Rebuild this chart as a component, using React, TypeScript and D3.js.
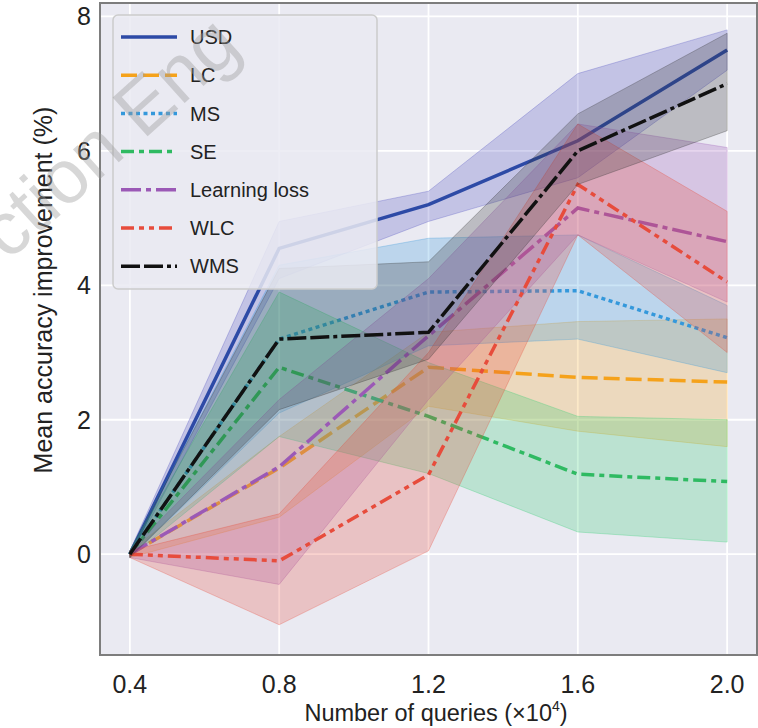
import * as d3 from 'd3'
import { useMemo } from 'react'

// queries (x10^4)
const queries = [0.4, 0.8, 1.2, 1.6, 2.0]
const xTicks = [0.4, 0.8, 1.2, 1.6, 2.0]
const yTicks = [0, 2, 4, 6, 8]

const seriesNames = ['USD', 'LC', 'MS', 'SE', 'Learning loss', 'WLC', 'WMS']

const usdMean = [0, 4.55, 5.2, 6.15, 7.5]
const usdLow = [-0.05, 4.1, 4.95, 5.6, 7.2]
const usdHigh = [0.05, 4.95, 5.4, 7.15, 7.8]

const lcMean = [0, 1.28, 2.78, 2.63, 2.56]
const lcLow = [-0.05, 0.55, 2.2, 1.83, 1.6]
const lcHigh = [0.05, 1.75, 3.3, 3.46, 3.5]

const msMean = [0, 3.2, 3.9, 3.92, 3.22]
const msLow = [-0.05, 2.1, 3.1, 3.2, 2.7]
const msHigh = [0.05, 4.3, 4.7, 4.75, 3.7]

const seMean = [0, 2.78, 2.05, 1.19, 1.08]
const seLow = [-0.05, 1.75, 1.2, 0.33, 0.18]
const seHigh = [0.05, 3.9, 2.85, 2.05, 2.0]

const llMean = [0, 1.3, 3.25, 5.15, 4.65]
const llLow = [-0.05, -0.45, 2.3, 4.75, 3.75]
const llHigh = [0.05, 2.3, 4.1, 6.4, 6.05]

const wlcMean = [0, -0.1, 1.18, 5.5, 4.05]
const wlcLow = [-0.05, -1.05, 0.05, 4.75, 3.0]
const wlcHigh = [0.05, 0.6, 3.0, 6.4, 5.1]

const wmsMean = [0, 3.2, 3.3, 6.0, 7.0]
const wmsLow = [-0.05, 2.15, 2.9, 5.5, 6.3]
const wmsHigh = [0.05, 4.25, 4.35, 6.55, 7.75]

const means = [usdMean, lcMean, msMean, seMean, llMean, wlcMean, wmsMean]
const lows = [usdLow, lcLow, msLow, seLow, llLow, wlcLow, wmsLow]
const highs = [usdHigh, lcHigh, msHigh, seHigh, llHigh, wlcHigh, wmsHigh]

const colors = ['#2d4aa6', '#f5a21b', '#3498db', '#2fba62', '#9b59b6', '#e74c3c', '#111111']
const bandColors = ['#5050c0', '#f5a623', '#3498db', '#2ecc71', '#9b59b6', '#e74c3c', '#333333']
const dashes = ['', '16 6', '4 3.5', '13 5 5 5', '20 5 5 5', '13 5 5 5 5 5', '19 4 19 4 4 4']

const W = 758
const H = 728
const left = 100
const right = 757
const top = 3
const bottom = 655
const font = 'Arial, "Liberation Sans", Helvetica, sans-serif'

const App = () => {
  const x = useMemo(() => d3.scaleLinear().domain([0.32, 2.08]).range([left, right]), [])
  const y = useMemo(() => d3.scaleLinear().domain([-1.5, 8.2]).range([bottom, top]), [])

  const line = d3.line<number>().x((_, i) => x(queries[i])).y(d => y(d))

  const bands = seriesNames.map((name, s) => {
    const area = d3.area<number>()
      .x((_, i) => x(queries[i]))
      .y0((_, i) => y(lows[s][i]))
      .y1((_, i) => y(highs[s][i]))
    return (
      <g key={name}>
        <path d={area(queries) || ''} fill={bandColors[s]} fillOpacity={0.25}
          stroke={bandColors[s]} strokeOpacity={0.3} strokeWidth={1} />
        <path d={line(means[s]) || ''} fill="none" stroke={colors[s]} strokeWidth={3.5}
          strokeDasharray={dashes[s]} />
      </g>
    )
  })

  return (
    <svg width={W} height={H} style={{ position: 'absolute', left: 0, top: 0 }} fontFamily={font}>
      <rect x={left} y={top} width={right - left} height={bottom - top} fill="#eaeaf2" />
      <defs>
        <clipPath id="plot">
          <rect x={left} y={top} width={right - left} height={bottom - top} />
        </clipPath>
      </defs>
      <g>
        {xTicks.map(t => (
          <line key={'gx' + t} x1={x(t)} x2={x(t)} y1={top} y2={bottom} stroke="#fff" strokeWidth={1.8} />
        ))}
        {yTicks.map(t => (
          <line key={'gy' + t} x1={left} x2={right} y1={y(t)} y2={y(t)} stroke="#fff" strokeWidth={1.8} />
        ))}
      </g>
      <g clipPath="url(#plot)">{bands}</g>
      <rect x={left} y={top} width={right - left} height={bottom - top} fill="none" stroke="#7d7d7d" strokeWidth={2} />

      {xTicks.map(t => (
        <text key={'tx' + t} x={x(t)} y={693} textAnchor="middle" fontSize={25} fill="#222">
          {d3.format('.1f')(t)}
        </text>
      ))}
      {yTicks.map(t => (
        <text key={'ty' + t} x={91} y={y(t)} dy="0.36em" textAnchor="end" fontSize={25} fill="#222">
          {t}
        </text>
      ))}
      <text x={436} y={721} textAnchor="middle" fontSize={23.5} fill="#222">
        Number of queries (×10<tspan dy={-10} fontSize={14}>4</tspan><tspan dy={10}>)</tspan>
      </text>
      <text transform="translate(52,290) rotate(-90)" textAnchor="middle" fontSize={25} fill="#222">
        Mean accuracy improvement (%)
      </text>

      <g>
        <rect x={113} y={15} width={264} height={274} rx={5} fill="#eaeaf2" fillOpacity={0.85}
          stroke="#cccccc" strokeWidth={1.5} />
        {seriesNames.map((name, s) => {
          const ly = 37 + s * 38.2
          return (
            <g key={'lg' + name}>
              <line x1={121} x2={177} y1={ly} y2={ly} stroke={colors[s]} strokeWidth={3.5}
                strokeDasharray={dashes[s]} />
              <text x={190} y={ly} dy="0.36em" fontSize={20} fill="#222">{name}</text>
            </g>
          )
        })}
      </g>

      <text transform="translate(8,262) rotate(-42)" fontSize={76} fill="#9a9a9a" fillOpacity={0.4}>
        ction Eng
      </text>
    </svg>
  )
}

export default App
